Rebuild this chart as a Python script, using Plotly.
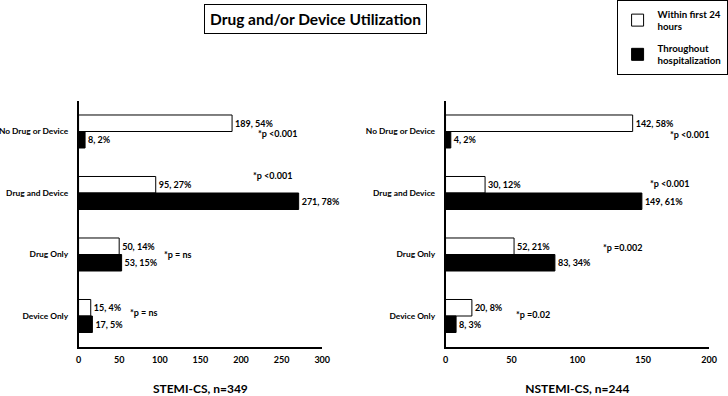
import plotly.graph_objects as go

# ---- data ----
categories = ["No Drug or Device", "Drug and Device", "Drug Only", "Device Only"]

stemi_24h = [189, 95, 50, 15]
stemi_24h_pct = [54, 27, 14, 4]
stemi_hosp = [8, 271, 53, 17]
stemi_hosp_pct = [2, 78, 15, 5]
stemi_p = ["*p <0.001", "*p <0.001", "*p = ns", "*p = ns"]

nstemi_24h = [142, 30, 52, 20]
nstemi_24h_pct = [58, 12, 21, 8]
nstemi_hosp = [4, 149, 83, 8]
nstemi_hosp_pct = [2, 61, 34, 3]
nstemi_p = ["*p <0.001", "*p <0.001", "*p =0.002", "*p =0.02"]

series_names = ["Within first 24<br>hours", "Throughout<br>hospitalization"]
panel_titles = ["STEMI-CS, n=349", "NSTEMI-CS, n=244"]
chart_title = "Drug and/or Device Utilization"

# ---- annotation placement (layout, not data) ----
stemi_p_pos = [(219, 0.03), (212, 0.71), (103, 2.0), (61, 2.95)]
nstemi_p_pos = [(169, 0.05), (154, 0.85), (118, 1.88), (52, 2.97)]

FONT = "Lato"
W, H = 728, 396


def lbl(vals, pcts):
    return [f"{v}, {p}%" for v, p in zip(vals, pcts)]


fig = go.Figure()

panels = [
    ("x", "y", stemi_24h, stemi_24h_pct, stemi_hosp, stemi_hosp_pct, True),
    ("x2", "y2", nstemi_24h, nstemi_24h_pct, nstemi_hosp, nstemi_hosp_pct, False),
]
for xa, ya, a, ap, b, bp, show in panels:
    fig.add_trace(go.Bar(
        y=categories, x=a, orientation="h", name=series_names[0],
        marker=dict(color="white", line=dict(color="black", width=1)),
        text=lbl(a, ap), textposition="outside", constraintext="none",
        textfont=dict(size=9, color="black"), cliponaxis=False,
        xaxis=xa, yaxis=ya, showlegend=show, legendgroup="a",
    ))
    fig.add_trace(go.Bar(
        y=categories, x=b, orientation="h", name=series_names[1],
        marker=dict(color="black", line=dict(color="black", width=1)),
        text=lbl(b, bp), textposition="outside", constraintext="none",
        textfont=dict(size=9, color="black"), cliponaxis=False,
        xaxis=xa, yaxis=ya, showlegend=show, legendgroup="b",
    ))

annotations = []
for (px, py), t in zip(stemi_p_pos, stemi_p):
    annotations.append(dict(x=px, y=py, xref="x", yref="y", text=t, showarrow=False,
                            xanchor="left", yanchor="middle", font=dict(size=9)))
for (px, py), t in zip(nstemi_p_pos, nstemi_p):
    annotations.append(dict(x=px, y=py, xref="x2", yref="y2", text=t, showarrow=False,
                            xanchor="left", yanchor="middle", font=dict(size=9)))
annotations.append(dict(x=317.5 / W, y=1 - 18.5 / H, xref="paper", yref="paper",
                        text=chart_title, showarrow=False, xanchor="center", yanchor="middle",
                        font=dict(size=15.5), bordercolor="black", borderwidth=1, borderpad=5,
                        bgcolor="white"))

ydom = [1 - 346.75 / H, 1 - 100.75 / H]
yax = dict(domain=ydom, type="category", categoryorder="array", categoryarray=categories,
           range=[3.5, -0.5], showline=True, linecolor="black", linewidth=1.5,
           showgrid=False, zeroline=False, ticks="", tickfont=dict(size=8.4),
           ticklabelstandoff=7)
xax_common = dict(showline=True, linecolor="black", linewidth=1.5, showgrid=False,
                  zeroline=False, ticks="", tickfont=dict(size=9), dtick=50,
                  tickmode="linear", tick0=0, ticklabelstandoff=4)

fig.update_layout(
    template="none",
    width=W, height=H,
    margin=dict(l=0, r=0, t=0, b=0),
    paper_bgcolor="white", plot_bgcolor="white",
    font=dict(family=FONT, weight="bold", color="black"),
    barmode="group", bargap=0.463, bargroupgap=0,
    xaxis=dict(domain=[79 / W, 324 / W], range=[0, 300], anchor="y",
               title=dict(text=panel_titles[0], font=dict(size=12), standoff=22),
               **xax_common),
    yaxis=dict(anchor="x", **yax),
    xaxis2=dict(domain=[448 / W, 713 / W], range=[0, 200], anchor="y2",
                title=dict(text=panel_titles[1], font=dict(size=12), standoff=22),
                **xax_common),
    yaxis2=dict(anchor="x2", **yax),
    legend=dict(x=620 / W, y=1, xanchor="left", yanchor="top",
                bordercolor="black", borderwidth=1, bgcolor="white",
                font=dict(size=9.7), tracegroupgap=6, itemwidth=30),
    annotations=annotations,
)

fig.write_html("out.html", config={"displayModeBar": False},
               post_script="document.body.style.margin='0';")
